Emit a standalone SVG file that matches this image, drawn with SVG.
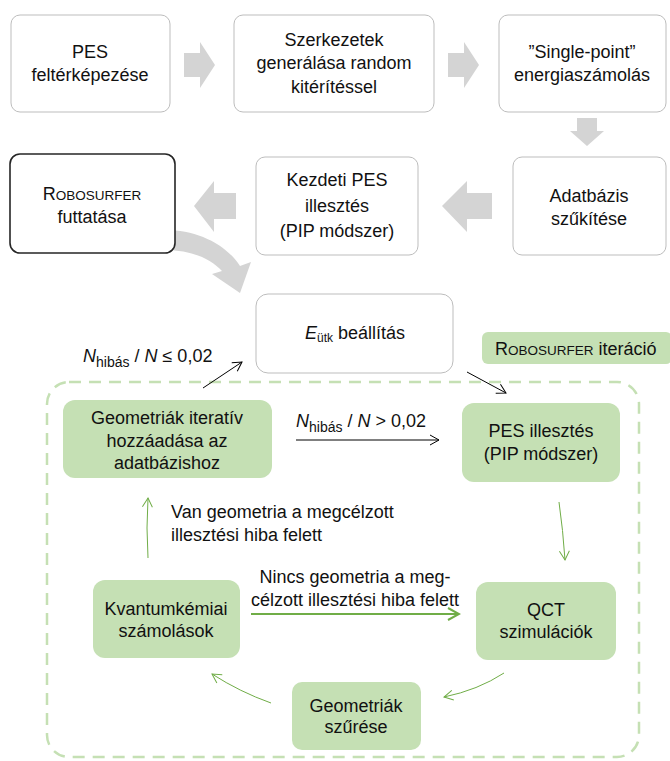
<svg xmlns="http://www.w3.org/2000/svg" width="670" height="761" viewBox="0 0 670 761">
<defs>
<style>
.t{font-family:"Liberation Sans",Arial,sans-serif;font-size:18px;fill:#111;text-anchor:middle}
.tl{font-family:"Liberation Sans",Arial,sans-serif;font-size:18px;fill:#111}
.box{fill:#fff;stroke:#bdbdbd;stroke-width:1}
.gbox{fill:#c5e0b4;stroke:none}
.blk{fill:#d4d4d4}
.ca{fill:none;stroke:#000;stroke-width:1}
.cg{fill:none;stroke:#70ad47;stroke-width:1}
.sc{font-size:13.5px}
.i{font-style:italic}
.sub{font-size:12px}
</style>
<marker id="ab" markerWidth="12" markerHeight="12" refX="10" refY="6" orient="auto" markerUnits="userSpaceOnUse">
<path d="M1,1 L10,6 L1,11" fill="none" stroke="#000" stroke-width="1"/>
</marker>
<marker id="ag" markerWidth="12" markerHeight="12" refX="10" refY="6" orient="auto" markerUnits="userSpaceOnUse">
<path d="M1,1 L10,6 L1,11" fill="none" stroke="#70ad47" stroke-width="1"/>
</marker>
<marker id="ag2" markerWidth="14" markerHeight="14" refX="12" refY="7" orient="auto" markerUnits="userSpaceOnUse">
<path d="M1,1 L12,7 L1,13" fill="none" stroke="#70ad47" stroke-width="2"/>
</marker>
</defs>
<rect width="670" height="761" fill="#fff"/>

<!-- dashed iteration frame -->
<rect x="47" y="382" width="592" height="375" rx="22" fill="none" stroke="#c5e0b4" stroke-width="2.5" stroke-dasharray="12,8"/>

<g id="connectors">
<path class="blk" d="M184,53 H200 V42 L215,65 L200,88 V77 H184 Z"/>
<path class="blk" d="M448,53 H464 V42 L479,65 L464,88 V77 H448 Z"/>
<path class="blk" d="M577,118 H597 V131 H604 L587,146 L570,131 H577 Z"/>
<path class="blk" d="M492,193 H467 V181 L442,206 L467,232 V219 H492 Z"/>
<path class="blk" d="M236,193 H214 V181 L194,206 L214,232 V219 H236 Z"/>
<path class="blk" d="M162,230 C196,229 226,244 240,266 L251,262 L240,293 L212,274 L222,271 C210,258 190,250 165,250 Z"/>
<path class="ca" marker-end="url(#ab)" d="M203,388 L242,362"/>
<path class="ca" marker-end="url(#ab)" d="M467,372 L506,393"/>
<path class="ca" marker-end="url(#ab)" d="M296,440 L439,440"/>
<path class="cg" marker-end="url(#ag)" d="M148,558 Q146,528 148,498"/>
<path class="cg" marker-end="url(#ag)" d="M559,502 Q563,530 565,560"/>
<path class="cg" style="stroke-width:2" marker-end="url(#ag2)" d="M251,614 L459,614"/>
<path class="cg" marker-end="url(#ag)" d="M504,673 Q478,690 444,697"/>
<path class="cg" marker-end="url(#ag)" d="M271,703 Q240,692 212,674"/>
</g>

<g id="n1"><rect class="box" x="11" y="15" width="159" height="97" rx="9"/>
<text class="t" x="90" y="58">PES</text><text class="t" x="90" y="81">feltérképezése</text></g>

<g id="n2"><rect class="box" x="234" y="15" width="200" height="97" rx="9"/>
<text class="t" x="334" y="46">Szerkezetek</text><text class="t" x="334" y="69">generálása random</text><text class="t" x="334" y="93">kitérítéssel</text></g>

<g id="n3"><rect class="box" x="499" y="15" width="167" height="97" rx="9"/>
<text class="t" x="582" y="58">”Single-point”</text><text class="t" x="582" y="81">energiaszámolás</text></g>

<g id="n4"><rect class="box" x="513" y="157" width="153" height="98" rx="9"/>
<text class="t" x="589" y="202">Adatbázis</text><text class="t" x="589" y="225">szűkítése</text></g>

<g id="n5"><rect class="box" x="256" y="157" width="162" height="98" rx="9"/>
<text class="t" x="337" y="186">Kezdeti PES</text><text class="t" x="337" y="212">illesztés</text><text class="t" x="337" y="237">(PIP módszer)</text></g>

<g id="n6"><rect x="10" y="154" width="165" height="99" rx="10" fill="#fff" stroke="#262626" stroke-width="1.6"/>
<text class="t" x="92" y="200">R<tspan class="sc">OBOSURFER</tspan></text><text class="t" x="92" y="223">futtatása</text></g>

<g id="n7"><rect class="box" x="256" y="294" width="197" height="79" rx="12"/>
<text class="t" x="355" y="339"><tspan class="i">E</tspan><tspan class="sub" dy="3">ütk</tspan><tspan dy="-3"> beállítás</tspan></text></g>

<g id="n8"><rect class="gbox" x="482" y="332" width="190" height="32" rx="6"/>
<text class="tl" x="495" y="355">R<tspan class="sc">OBOSURFER</tspan> iteráció</text></g>

<g id="n9"><rect class="gbox" x="63" y="400" width="209" height="78" rx="12"/>
<text class="t" x="167" y="424">Geometriák iteratív</text><text class="t" x="167" y="447">hozzáadása az</text><text class="t" x="167" y="469">adatbázishoz</text></g>

<g id="n10"><rect class="gbox" x="462" y="403" width="158" height="79" rx="12"/>
<text class="t" x="541" y="437">PES illesztés</text><text class="t" x="541" y="460">(PIP módszer)</text></g>

<g id="n11"><rect class="gbox" x="93" y="580" width="147" height="78" rx="12"/>
<text class="t" x="166" y="615">Kvantumkémiai</text><text class="t" x="166" y="637">számolások</text></g>

<g id="n12"><rect class="gbox" x="476" y="582" width="140" height="78" rx="12"/>
<text class="t" x="546" y="616">QCT</text><text class="t" x="546" y="638">szimulációk</text></g>

<g id="n13"><rect class="gbox" x="292" y="682" width="129" height="68" rx="10"/>
<text class="t" x="356" y="712">Geometriák</text><text class="t" x="356" y="733">szűrése</text></g>

<g id="labels">
<text class="tl" x="83" y="362" style="font-size:18px"><tspan class="i">N</tspan><tspan class="sub" style="font-size:14px" dy="5">hibás</tspan><tspan dy="-5"> / </tspan><tspan class="i">N</tspan> ≤ 0,02</text>
<text class="tl" x="296" y="427" style="font-size:18px"><tspan class="i">N</tspan><tspan class="sub" style="font-size:14px" dy="5">hibás</tspan><tspan dy="-5">  / </tspan><tspan class="i">N</tspan> &gt; 0,02</text>
<text class="tl" x="171" y="518">Van geometria a megcélzott</text>
<text class="tl" x="171" y="541">illesztési hiba felett</text>
<text class="t" x="355" y="583">Nincs geometria a meg-</text>
<text class="t" x="355" y="606">célzott illesztési hiba felett</text>
</g>
</svg>
